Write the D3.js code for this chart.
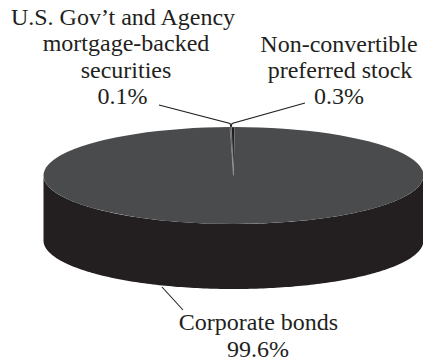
<!DOCTYPE html>
<html>
<head>
<meta charset="utf-8">
<script src="https://cdnjs.cloudflare.com/ajax/libs/d3/7.8.5/d3.min.js"></script>
<style>
html,body{margin:0;padding:0;background:#fff;overflow:hidden}
svg{display:block}
text{font-family:"Liberation Serif",serif;font-size:24px;fill:#231f20;text-anchor:middle}
</style>
</head>
<body>
<svg id="chart" width="423" height="360"></svg>
<script>
// Portfolio composition, in percent, clockwise from the top of the disc
const categories = ["Non-convertible preferred stock", "Corporate bonds", "U.S. Gov't and Agency mortgage-backed securities"];
const values = [0.3, 99.6, 0.1];
const sliceColors = ["#1f1c1d", "#4a4b4d", "#1f1c1d"];
const sliceStrokes = ["#b5b5b5", "none", "#b5b5b5"];
const labelLines = [
  ["Non-convertible", "preferred stock", "0.3%"],
  ["Corporate bonds", "99.6%"],
  ["U.S. Gov’t and Agency", "mortgage-backed", "securities", "0.1%"]
];

const W = 423, H = 360;
const cx = 233.5, cy = 175.5, rx = 190, ry = 48.5, depth = 65;
const sideColor = "#231f20";

const svg = d3.select("#chart").attr("viewBox", [0, 0, W, H]);

// Outer wall of the disc: the front half of the rim, extruded downward
const rim = d3.area()
  .x(t => cx + rx * Math.cos(t))
  .y0(t => cy + ry * Math.sin(t))
  .y1(t => cy + ry * Math.sin(t) + depth);
svg.append("path")
  .attr("d", rim(d3.range(0, 181).map(d => d * Math.PI / 180)))
  .attr("fill", sideColor);

// Top face: a regular pie squashed vertically into an ellipse
const startAngle = -0.012;
const pie = d3.pie().sort(null).value(d => d)
  .startAngle(startAngle).endAngle(startAngle + Math.PI * 2);
const arc = d3.arc().innerRadius(0).outerRadius(rx);
const face = svg.append("g")
  .attr("transform", `translate(${cx},${cy}) scale(1,${ry / rx})`);
face.selectAll("path")
  .data(pie(values))
  .join("path")
  .attr("d", arc)
  .attr("fill", (d, i) => sliceColors[i])
  .attr("stroke", (d, i) => sliceStrokes[i])
  .attr("stroke-width", 0.4)
  .attr("vector-effect", "non-scaling-stroke");

// Leader lines from the labels to the disc
const leaders = [
  [[305, 103], [232, 123.5], [231, 127]],
  [[159, 105], [230, 123.5], [231, 127]],
  [[162, 287], [183, 310]]
];
const line = d3.line();
svg.selectAll("path.leader")
  .data(leaders)
  .join("path")
  .attr("class", "leader")
  .attr("d", line)
  .attr("fill", "none")
  .attr("stroke", sideColor)
  .attr("stroke-width", 1.1);

// Multi-line labels, each line centred on its own x
const labelAnchors = [
  { xs: [339, 340, 339], y: 52, gap: 26 },
  { xs: [258.5, 258], y: 329.5, gap: 27 },
  { xs: [123, 126, 126, 122.5], y: 24.5, gap: 26.5 }
];
const labels = svg.selectAll("text.label")
  .data(labelLines)
  .join("text")
  .attr("class", "label");
labels.selectAll("tspan")
  .data((d, i) => d.map((s, j) => ({ s, x: labelAnchors[i].xs[j], y: labelAnchors[i].y + j * labelAnchors[i].gap })))
  .join("tspan")
  .attr("x", d => d.x)
  .attr("y", d => d.y)
  .text(d => d.s);
</script>
</body>
</html>
